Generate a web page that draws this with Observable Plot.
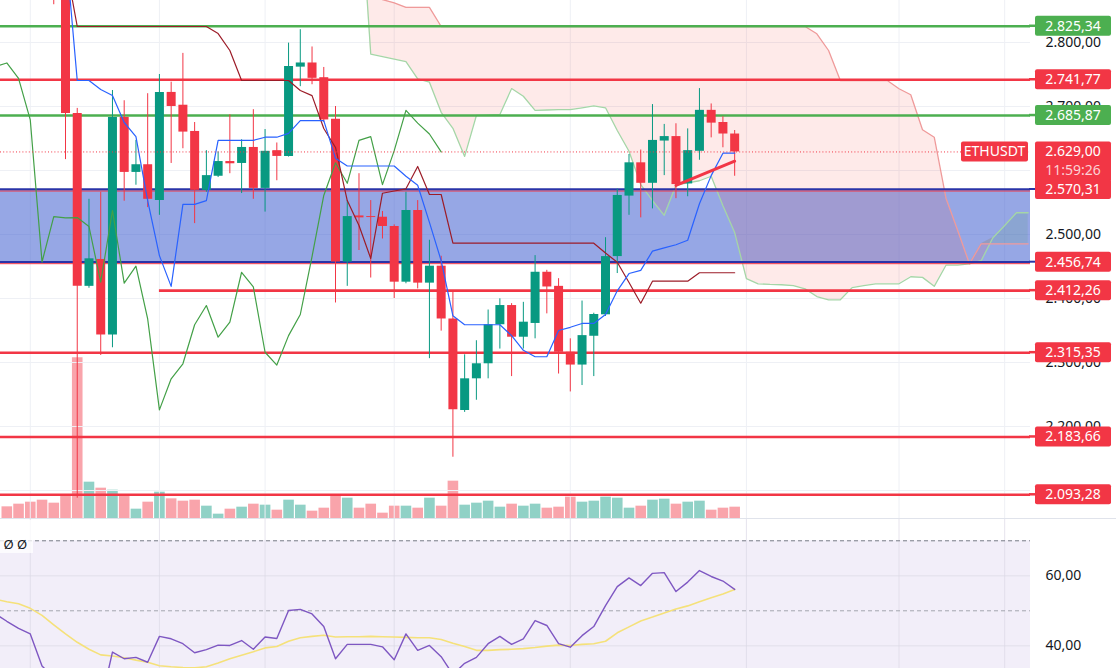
<!DOCTYPE html>
<html>
<head>
<meta charset="utf-8">
<script src="https://cdn.jsdelivr.net/npm/d3@7"></script>
<script src="https://cdn.jsdelivr.net/npm/@observablehq/plot@0.6"></script>
<style>
  html, body { margin: 0; padding: 0; background: #ffffff; }
  #wrap { position: relative; width: 1116px; height: 668px; overflow: hidden; background: #fff; }
  #wrap svg { position: absolute; left: 0; }
  #sep { position: absolute; left: 0; top: 518px; width: 1116px; height: 1px; background: #e0e3eb; }
</style>
</head>
<body>
<div id="wrap"></div>
<script>
// ---------------- DATA ----------------
// candle index 0..62 (daily candles), ETHUSDT
const open  = [3060,3020,2990,2970,2950,2920,2689,2419,2461,2343,2683,2597,2609,2553,2722,2702,2661,2569,2591,2614,2611,2636,2572,2631,2622,2761.5,2768,2745,2680,2457,2529,2528,2527,2512.5,2425.5,2537.5,2424,2450.5,2368,2225,2274.5,2298,2359,2389,2339.5,2361,2441,2419,2316,2296,2341,2374.5,2465.5,2560,2612,2580,2646,2653,2579,2630,2694,2675,2657];
const high  = [3075,3035,3000,2985,2965,2935,2697,2555,2566,2725,2709,2647,2720,2750,2738,2783,2675,2631,2629,2687,2648,2695,2664,2643,2799,2820,2793,2761,2700,2553,2595,2553,2536,2515,2566,2553,2491,2466,2410,2312,2334,2382,2399.5,2392,2394,2467,2444,2431,2337,2396,2377,2495,2571,2625,2632,2703,2672,2673,2665,2728,2704,2684,2662.5];
const low   = [3010,2980,2955,2935,2859,2617,2088,2416,2311,2323,2552,2577,2542,2530,2611,2634,2517,2566,2589,2595,2564,2555,2535,2584,2621,2731,2734,2675,2393,2419,2475,2432,2493,2400,2423,2415,2306,2349,2152,2222,2241,2274.5,2321,2278,2321,2337,2376,2282,2254,2264,2278,2372,2439,2530,2526,2540,2592,2556,2559,2616,2651,2635.5,2591];
const close = [3020,2990,2970,2950,2920,2689,2419,2462,2343,2683,2597,2609,2555,2722,2700,2660,2569,2592,2614,2610.5,2636,2572,2630,2622,2762.5,2768,2744,2679,2457,2528,2526,2526.5,2512.5,2425.5,2537.5,2424,2450.5,2368,2226,2274.5,2298,2359,2389,2339.5,2363,2441,2418,2316,2296,2342,2375,2465.5,2561,2612,2580,2647,2653,2578,2631,2694,2674,2657,2629];
const volume = [70,86,98,110,92,136,964,218,182,170,144,56,98,158,118,104,110,74,26,56,68,86,80,50,110,80,44,62,140,122,62,86,32,74,74,62,122,74,224,80,92,104,68,86,74,86,62,68,128,98,104,128,122,62,74,110,116,86,98,104,50,62,68];

// Ichimoku (conversion / base lines per candle index; leading spans from spanStart, lagging = close shifted back)
const tenkan = [null,null,null,null,null,2950,2740.6,2740.6,2726.6,2717.2,2675,2653,2553,2467,2419,2547,2547,2553,2647,2647,2647,2647,2652,2652,2658,2678,2678,2678,2619,2607,2607,2607,2607,2607,2591,2577,2519,2459,2373,2359,2359,2359,2359,2342,2319,2309,2309,2350,2355,2361,2361,2375,2412,2439,2444,2474,2479,2484,2491,2548,2592,2627,2627];
const kijun  = [null,null,null,null,null,2925,2825,2825,2825,2825,2825,2825,2825,2825,2825,2825,2825,2825,2814,2787.5,2740.6,2740.6,2740.6,2740.6,2740.6,2725,2717,2665.6,2636,2553,2514,2462.5,2564.5,2568,2571.4,2606.3,2562.5,2562.5,2486.4,2486.4,2486.4,2486.4,2486.4,2486.4,2486.4,2486.4,2486.4,2486.4,2486.4,2486.4,2486.4,2471,2456.7,2425,2392.7,2427,2427,2427,2427,2440.2,2440.2,2440.2,2440.2];
const spanStart = 30;
const spanA = [3060,2782,2778,2774,2770,2743,2738,2691,2666,2622,2686,2687,2687.5,2728,2716,2694,2694.5,2695,2695,2698,2701,2698,2662.5,2630,2578,2553,2530,2577,2580.5,2584,2591,2545,2503,2431,2423,2422,2421.5,2420,2415,2403,2398,2398,2417,2420,2423,2423,2423,2434,2433,2419,2452,2452,2454,2459,2495,2514,2534,2534];
const spanB = [2885,2875,2867,2862,2855,2855,2855,2825,2825,2825,2825,2825,2825,2825,2825,2825,2825,2825,2825,2825,2825,2825,2825,2825,2825,2825,2825,2825,2825,2825,2825,2825,2825,2825,2825,2825,2825,2825,2825,2813.6,2787.5,2740.6,2740.6,2740.6,2740.6,2740.6,2727.7,2718.3,2663.6,2652,2556.7,2506.3,2454.2,2485.5,2485.5,2485.5,2485.5,2485.5];
const laggingShift = 25;

// RSI pane (values from candle index rsiStart)
const rsiStart = -1;
const rsi   = [49.2,47.0,45.0,43.4,34.2,31.0,28.0,21.0,25.0,23.5,38.2,36.3,36.7,35.3,42.7,42.0,40.6,38.0,38.9,40.2,40.1,41.5,39.0,42.5,42.1,50.1,50.4,49.1,45.5,36.3,40.4,40.4,40.4,39.7,36.0,43.4,38.7,40.1,36.9,31.8,35.0,36.7,40.6,42.7,40.4,42.0,47.2,45.8,40.6,39.6,42.9,45.5,51.5,56.9,59.4,57.2,60.7,60.9,55.5,58.2,61.5,59.8,58.5,56.1];
const rsiMA = [53.3,52.6,52.0,50.7,48.7,46.0,43.4,41.0,39.0,37.4,37.1,36.6,35.9,35.3,34.3,34.0,33.8,33.7,34.0,35.1,36.3,37.3,38.3,39.4,39.8,41.3,42.3,42.7,43.0,42.5,42.6,42.6,42.7,42.6,42.5,42.4,42.3,42.3,41.8,40.7,39.8,38.7,38.7,38.9,39.0,39.2,39.5,39.9,40.2,40.1,40.4,40.6,41.3,43.7,45.4,47.1,48.2,49.4,50.5,51.4,52.6,53.7,54.8,56.1];

// Horizontal levels drawn on the chart
const levelValues = [2825.34, 2741.77, 2685.87, 2412.26, 2315.35, 2183.66, 2093.28];
const levelKinds  = ["res", "sup", "res", "sup", "sup", "sup", "sup"];
const levelStart  = [null, null, null, 13, null, null, null];
const bandLow = 2456.74, bandHigh = 2570.31;
const trendIdx = [57, 62], trendPrice = [2576.6, 2614.5];
const lastPrice = 2629.00, countdown = "11:59:26", symbol = "ETHUSDT";

// Ticks
const priceTicks = [2100, 2200, 2300, 2400, 2500, 2600, 2700, 2800];
const rsiTicks = [40, 60];
const timeGrid = [2, 13, 22, 33, 48, 63, 76, 85];

// ---------------- SETUP ----------------
const W = 1116, MR = 86, H_MAIN = 518, H_RSI = 150;
const xDomain = [-0.537, 87.2];
const priceDomain = [2056.25, 2865.625];
const volDomain = [0, 3108];
const rsiDomain = [33.51, 76.37];
const FONT = "'Noto Sans', Roboto, sans-serif";
const RED = "#f23645", GREEN_LVL = "#4caf50", UP = "#089981", DOWN = "#f23645";
const BAND_EDGE = "#2a34a8";

const loc = d3.formatLocale({decimal: ",", thousands: ".", grouping: [3], currency: ["", ""]});
const fmt = loc.format(",.2f");

const candles = close.map((c, i) => ({i, o: open[i], h: high[i], l: low[i], c, v: volume[i], up: c >= open[i]}));
const spans = spanA.map((a, k) => ({j: spanStart + k, a, b: spanB[k]}));
const levels = levelValues.map((v, k) => ({value: v, color: levelKinds[k] === "res" ? GREEN_LVL : RED, from: levelStart[k]}));
const trend = trendIdx.map((i, k) => ({i, p: trendPrice[k]}));
const rsiData = rsi.map((r, k) => ({i: rsiStart + k, r, m: rsiMA[k]}));
const edges = [{x: xDomain[0]}, {x: xDomain[1]}];

const wrap = document.getElementById("wrap");
function place(svg, top) { svg.style.top = top + "px"; wrap.appendChild(svg); }

// ---------------- VOLUME (bottom layer) ----------------
const volPlot = Plot.plot({
  width: W, height: H_MAIN, marginTop: 0, marginBottom: 0, marginLeft: 0, marginRight: MR,
  style: {background: "#ffffff"},
  x: {domain: xDomain, axis: null},
  y: {domain: volDomain, axis: null},
  marks: [
    Plot.ruleX(candles, {x: "i", y1: 0, y2: "v", stroke: d => d.up ? UP : DOWN, strokeOpacity: 0.45, strokeWidth: 10.6})
  ]
});
place(volPlot, 0);

// ---------------- PRICE LABELS (custom render using the plot's y scale) ----------------
function priceLabels(items) {
  return (index, scales, values, dims) => {
    const g = d3.create("svg:g").attr("font-family", FONT).attr("font-size", 14);
    const fr = dims.width - dims.marginRight;
    const bx = fr + 5, bw = 76;
    for (const d of items) {
      const y = scales.y(d.value);
      if (d.line) g.append("line").attr("x1", fr - 1).attr("x2", bx).attr("y1", y).attr("y2", y).attr("stroke", d.line).attr("stroke-width", d.lineWidth || 2.5);
      const bh = d.sub ? 40 : 20;
      g.append("rect").attr("x", bx).attr("y", y - 10).attr("width", bw).attr("height", bh).attr("rx", 2).attr("fill", d.color);
      g.append("text").attr("x", bx + bw / 2).attr("y", y).attr("dy", "0.36em").attr("text-anchor", "middle").attr("fill", "#fff").text(fmt(d.value));
      if (d.sub) g.append("text").attr("x", bx + bw / 2).attr("y", y + 18.5).attr("dy", "0.36em").attr("text-anchor", "middle").attr("fill", "#fff").attr("fill-opacity", 0.78).text(d.sub);
      if (d.tag) {
        const tw = 67;
        g.append("rect").attr("x", fr - 2 - tw).attr("y", y - 10).attr("width", tw).attr("height", 20).attr("rx", 2).attr("fill", d.color);
        g.append("text").attr("x", fr - 2 - tw / 2).attr("y", y).attr("dy", "0.36em").attr("text-anchor", "middle").attr("fill", "#fff").text(d.tag);
      }
    }
    return g.node();
  };
}

const labelItems = [
  ...levels.map(l => ({value: l.value, color: l.color, line: l.color})),
  {value: lastPrice, color: RED, sub: countdown, tag: symbol},
  {value: bandHigh, color: RED, line: BAND_EDGE, lineWidth: 2},
  {value: bandLow, color: RED, line: BAND_EDGE, lineWidth: 2}
];

// ---------------- MAIN PRICE PANE ----------------
const mainPlot = Plot.plot({
  width: W, height: H_MAIN, marginTop: 0, marginBottom: 0, marginLeft: 0, marginRight: MR,
  style: {background: "transparent", fontFamily: FONT, fontSize: "14px", overflow: "visible"},
  x: {domain: xDomain, axis: null},
  y: {domain: priceDomain},
  marks: [
    Plot.ruleY(priceTicks, {stroke: "#eef0f5", strokeWidth: 1}),
    Plot.ruleX(timeGrid, {stroke: "#eef0f5", strokeWidth: 1}),
    // support band
    Plot.areaY(edges, {x: "x", y1: bandLow, y2: bandHigh, fill: "#3f5fd0", fillOpacity: 0.55}),
    // ichimoku cloud
    Plot.areaY(spans, {x: "j", y1: "a", y2: d => Math.max(d.a, d.b), fill: "#f44336", fillOpacity: 0.11, clip: true}),
    Plot.areaY(spans, {x: "j", y1: "b", y2: d => Math.max(d.a, d.b), fill: "#43a047", fillOpacity: 0.12, clip: true}),
    Plot.line(spans, {x: "j", y: "a", stroke: "#a5d6a7", strokeWidth: 1.3, clip: true}),
    Plot.line(spans, {x: "j", y: "b", stroke: "#ef9a9a", strokeWidth: 1.3, clip: true}),
    // horizontal levels
    Plot.ruleY(levels.filter(l => l.from == null), {y: "value", stroke: "color", strokeWidth: 2.6}),
    Plot.ruleY(levels.filter(l => l.from != null), {y: "value", x1: "from", x2: xDomain[1], stroke: "color", strokeWidth: 2.6}),
    Plot.ruleY([bandHigh, bandLow], {stroke: RED, strokeWidth: 1, dy: 1.5}),
    Plot.ruleY([bandHigh, bandLow], {stroke: BAND_EDGE, strokeWidth: 2, dy: -0.3}),
    // candles
    Plot.ruleX(candles, {x: "i", y1: "l", y2: "h", stroke: d => d.up ? UP : DOWN, strokeWidth: 1, clip: true}),
    Plot.ruleX(candles, {x: "i", y1: "o", y2: "c", stroke: d => d.up ? UP : DOWN, strokeWidth: 9, clip: true}),
    // ichimoku lines
    Plot.line(candles, {x: d => d.i - laggingShift, y: "c", stroke: "#43a047", strokeWidth: 1.2, clip: true}),
    Plot.line(candles, {x: "i", y: d => kijun[d.i], stroke: "#9c1c28", strokeWidth: 1.2, clip: true}),
    Plot.line(candles, {x: "i", y: d => tenkan[d.i], stroke: "#2962ff", strokeWidth: 1.2, clip: true}),
    // trend line
    Plot.line(trend, {x: "i", y: "p", stroke: RED, strokeWidth: 3, strokeLinecap: "round"}),
    // current price line
    Plot.ruleY([lastPrice], {stroke: RED, strokeWidth: 1, strokeDasharray: "1,2.2"}),
    // right price axis
    Plot.axisY(priceTicks, {anchor: "right", tickSize: 0, tickPadding: 15, tickFormat: fmt, fontSize: 14, color: "#131722", label: null}),
    priceLabels(labelItems)
  ]
});
place(mainPlot, 0);

// ---------------- RSI PANE ----------------
const rsiPlot = Plot.plot({
  width: W, height: H_RSI, marginTop: 0, marginBottom: 0, marginLeft: 0, marginRight: MR,
  style: {background: "#ffffff", fontFamily: FONT, fontSize: "14px", overflow: "visible"},
  x: {domain: xDomain, axis: null},
  y: {domain: rsiDomain},
  marks: [
    Plot.areaY(edges, {x: "x", y1: 30, y2: 70, fill: "#7e57c2", fillOpacity: 0.1}),
    Plot.ruleX(timeGrid, {stroke: "#dcd8e6", strokeOpacity: 0.7}),
    Plot.ruleY(rsiTicks, {stroke: "#dcd8e6", strokeOpacity: 0.7}),
    Plot.ruleY([50], {stroke: "#a3a6af", strokeDasharray: "4,3"}),
    Plot.ruleY([70], {stroke: "#787b86", strokeDasharray: "4,3"}),
    Plot.line(rsiData, {x: "i", y: "m", stroke: "#f5e17a", strokeWidth: 1.6, clip: true}),
    Plot.line(rsiData, {x: "i", y: "r", stroke: "#7e57c2", strokeWidth: 1.4, clip: true}),
    Plot.axisY(rsiTicks, {anchor: "right", tickSize: 0, tickPadding: 15, tickFormat: fmt, fontSize: 14, color: "#131722", label: null}),
    (index, scales, values, dims) => {
      const g = d3.create("svg:g");
      g.append("rect").attr("x", 0).attr("y", 2).attr("width", 33).attr("height", 33).attr("fill", "#ffffff").attr("fill-opacity", 0.75);
      return g.node();
    },
    Plot.text(["Ø Ø"], {frameAnchor: "top-left", dx: 3, dy: 21, textAnchor: "start", fontSize: 13, fill: "#131722"})
  ]
});
place(rsiPlot, H_MAIN);

const sep = document.createElement("div");
sep.id = "sep";
wrap.appendChild(sep);
</script>
</body>
</html>
